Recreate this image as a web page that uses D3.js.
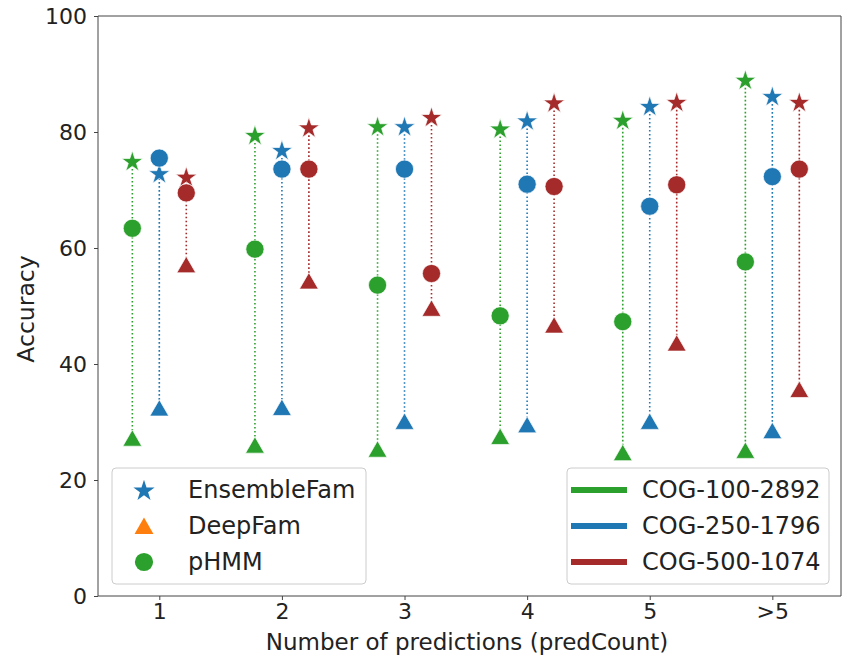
<!DOCTYPE html>
<html>
<head>
<meta charset="UTF-8">
<title>Accuracy by predCount</title>
<script src="https://d3js.org/d3.v7.min.js"></script>
<style>
  body { margin: 0; background: #fff; font-family: "DejaVu Sans", sans-serif; }
  .axis text { font-size: 22px; fill: #222; font-family: "DejaVu Sans", sans-serif; }
  .axis path, .axis line { stroke: #444; }
</style>
</head>
<body>
<div id="chart"></div>
<script>
// categories on the x axis
const categories = ["1", "2", "3", "4", "5", ">5"];
const datasets = ["COG-100-2892", "COG-250-1796", "COG-500-1074"];
const datasetColors = ["#2ca02c", "#1f77b4", "#a52a2a"];
const datasetOffsets = [-0.22, 0, 0.22];
const yTicks = [0, 20, 40, 60, 80, 100];

// accuracy per dataset, one value per category
const ensembleFam = [
  [75.0, 79.5, 81.0, 80.6, 82.1, 89.0],
  [72.9, 76.9, 81.0, 82.0, 84.5, 86.2],
  [72.3, 80.8, 82.6, 85.1, 85.2, 85.2]
];
const deepFam = [
  [27.2, 26.0, 25.3, 27.5, 24.7, 25.1],
  [32.4, 32.5, 30.1, 29.5, 30.1, 28.5],
  [57.1, 54.3, 49.6, 46.7, 43.6, 35.6]
];
const pHMM = [
  [63.4, 59.8, 53.6, 48.3, 47.3, 57.6],
  [75.5, 73.6, 73.6, 71.0, 67.2, 72.3],
  [69.5, 73.6, 55.6, 70.6, 70.9, 73.6]
];

const W = 846, H = 664;
const margin = { left: 98, right: 5, top: 16, bottom: 68 };

const svg = d3.select("#chart").append("svg")
  .attr("width", W).attr("height", H);

const x = d3.scaleLinear().domain([0.5, 6.56]).range([margin.left, W - margin.right]);
const y = d3.scaleLinear().domain([0, 100]).range([H - margin.bottom, margin.top]);

// axes
svg.append("g").attr("class", "axis")
  .attr("transform", `translate(0,${H - margin.bottom})`)
  .call(d3.axisBottom(x).tickValues(d3.range(1, 7)).tickSize(4).tickPadding(3)
    .tickFormat(d => categories[d - 1]))
  .call(g => g.select(".domain").attr("d", `M${margin.left},0H${W - margin.right}`));

svg.append("g").attr("class", "axis")
  .attr("transform", `translate(${margin.left},0)`)
  .call(d3.axisLeft(y).tickValues(yTicks).tickSize(4).tickPadding(7))
  .call(g => g.select(".domain").attr("d", `M0,${y(0)}V${y(100)}`));

svg.append("line")
  .attr("x1", margin.left).attr("x2", W - margin.right)
  .attr("y1", y(100)).attr("y2", y(100)).attr("stroke", "#444");
svg.append("line")
  .attr("x1", W - margin.right).attr("x2", W - margin.right)
  .attr("y1", y(100)).attr("y2", y(0)).attr("stroke", "#444");

svg.append("text")
  .attr("x", 467).attr("y", 650)
  .attr("text-anchor", "middle").style("font-size", "23px").attr("fill", "#222")
  .text("Number of predictions (predCount)");

svg.append("text")
  .attr("transform", `translate(34,${(y(0) + y(100)) / 2 + 3}) rotate(-90)`)
  .attr("text-anchor", "middle").style("font-size", "23.5px").attr("fill", "#222")
  .text("Accuracy");

// build points
const points = [];
datasets.forEach((ds, i) => {
  categories.forEach((c, j) => {
    const pos = j + 1 + datasetOffsets[i];
    points.push({ ds: i, pos, method: "EnsembleFam", v: ensembleFam[i][j] });
    points.push({ ds: i, pos, method: "DeepFam", v: deepFam[i][j] });
    points.push({ ds: i, pos, method: "pHMM", v: pHMM[i][j] });
  });
});

// dotted stems
const stems = d3.groups(points, d => d.ds + "_" + d.pos);
svg.append("g").selectAll("line")
  .data(stems)
  .join("line")
  .attr("x1", d => x(d[1][0].pos)).attr("x2", d => x(d[1][0].pos))
  .attr("y1", d => y(d3.max(d[1], p => p.v)))
  .attr("y2", d => y(d3.min(d[1], p => p.v)))
  .attr("stroke", d => datasetColors[d[1][0].ds])
  .attr("stroke-width", 1.6)
  .attr("stroke-dasharray", "1.6,2.4");

const symbols = {
  EnsembleFam: d3.symbol(d3.symbolStar, 140),
  DeepFam: d3.symbol(d3.symbolTriangle, 155),
  pHMM: d3.symbol(d3.symbolCircle, 260)
};
const symOffset = { EnsembleFam: 1, DeepFam: 2.5, pHMM: 0 };

svg.append("g").selectAll("path")
  .data(points)
  .join("path")
  .attr("d", d => symbols[d.method]())
  .attr("transform", d => `translate(${x(d.pos)},${y(d.v) + symOffset[d.method]})`)
  .attr("fill", d => datasetColors[d.ds])
  .attr("stroke", "#fff")
  .attr("stroke-width", 0.7);

// legend: methods
const leg1 = svg.append("g").attr("transform", "translate(112,468)");
leg1.append("rect").attr("width", 254).attr("height", 116).attr("rx", 4)
  .attr("fill", "#fff").attr("fill-opacity", 0.8).attr("stroke", "#ccc");
const methodLegend = [
  { name: "EnsembleFam", color: "#1f77b4" },
  { name: "DeepFam", color: "#ff7f0e" },
  { name: "pHMM", color: "#2ca02c" }
];
methodLegend.forEach((m, i) => {
  const row = leg1.append("g").attr("transform", `translate(0,${22 + i * 36})`);
  row.append("path").attr("d", symbols[m.name]())
    .attr("transform", `translate(32,${symOffset[m.name]})`)
    .attr("fill", m.color);
  row.append("text").attr("x", 76).attr("y", 8)
    .style("font-size", "24px").attr("fill", "#222").text(m.name);
});

// legend: datasets
const leg2 = svg.append("g").attr("transform", "translate(567,468)");
leg2.append("rect").attr("width", 262).attr("height", 116).attr("rx", 4)
  .attr("fill", "#fff").attr("fill-opacity", 0.8).attr("stroke", "#ccc");
datasets.forEach((ds, i) => {
  const row = leg2.append("g").attr("transform", `translate(0,${22 + i * 36})`);
  row.append("line").attr("x1", 4).attr("x2", 60)
    .attr("stroke", datasetColors[i]).attr("stroke-width", 6);
  row.append("text").attr("x", 75).attr("y", 8)
    .style("font-size", "24px").attr("fill", "#222").text(ds);
});
</script>
</body>
</html>
